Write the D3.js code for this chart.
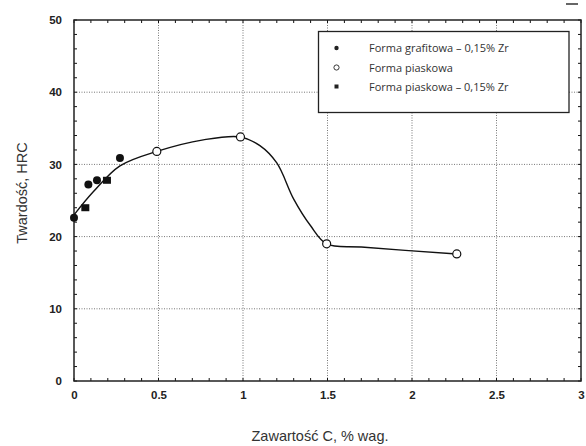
<!DOCTYPE html>
<html><head><meta charset="utf-8">
<script src="https://cdn.jsdelivr.net/npm/d3@7"></script>
<style>body{margin:0;background:#fff}</style>
</head><body><svg id="c" width="586" height="446"></svg>
<script>
const xTicks = [0, 0.5, 1, 1.5, 2, 2.5, 3];
const xTickLabels = ["0", "0.5", "1", "1.5", "2", "2.5", "3"];
const yTicks = [0, 10, 20, 30, 40, 50];
const grafitowaZr = [[0, 22.6], [0.085, 27.2], [0.136, 27.8], [0.272, 30.9]];
const piaskowa = [[0.49, 31.8], [0.985, 33.8], [1.495, 19.0], [2.265, 17.6]];
const piaskowaZr = [[0.067, 24.0], [0.195, 27.8]];
const trendCurve = [[0, 23.0], [0.114, 26.2], [0.272, 29.8], [0.49, 31.8], [0.765, 33.4], [0.985, 33.8],
  [1.1, 32.6], [1.2, 30.2], [1.3, 25.2], [1.4, 21.5], [1.495, 19.0], [1.7, 18.55], [2.265, 17.6]];
const legendLabels = ["Forma grafitowa \u2013 0,15% Zr", "Forma piaskowa", "Forma piaskowa \u2013 0,15% Zr"];

const svg = d3.select("#c");
const x = d3.scaleLinear().domain([0, 3]).range([74, 581]);
const y = d3.scaleLinear().domain([0, 50]).range([381, 20]);

// grid
const grid = svg.append("g").attr("stroke", "#777").attr("stroke-width", 1).attr("stroke-dasharray", "1,1.5");
xTicks.filter(d => d > 0 && d < 3).forEach(d => grid.append("line").attr("x1", x(d)).attr("x2", x(d)).attr("y1", y(0)).attr("y2", y(50)));
yTicks.filter(d => d > 0 && d < 50).forEach(d => grid.append("line").attr("x1", x(0)).attr("x2", x(3)).attr("y1", y(d)).attr("y2", y(d)));

// minor ticks
const mt = svg.append("g").attr("stroke", "#111").attr("stroke-width", 1);
d3.range(0, 3.001, 0.1).forEach(d => {
  mt.append("line").attr("x1", x(d)).attr("x2", x(d)).attr("y1", y(0)).attr("y2", y(0) - 3);
  mt.append("line").attr("x1", x(d)).attr("x2", x(d)).attr("y1", y(50)).attr("y2", y(50) + 3);
});
d3.range(0, 50.001, 2).forEach(d => {
  mt.append("line").attr("x1", x(0)).attr("x2", x(0) + 3).attr("y1", y(d)).attr("y2", y(d));
  mt.append("line").attr("x1", x(3)).attr("x2", x(3) - 3).attr("y1", y(d)).attr("y2", y(d));
});

// frame
svg.append("rect").attr("x", x(0)).attr("y", y(50)).attr("width", x(3) - x(0)).attr("height", y(0) - y(50))
  .attr("fill", "none").attr("stroke", "#222").attr("stroke-width", 1.5);

// axes labels
const xAxis = d3.axisBottom(x).tickValues(xTicks).tickFormat((d, i) => xTickLabels[i]).tickSize(0).tickPadding(10);
const gx = svg.append("g").attr("transform", `translate(0,${y(0)})`).call(xAxis);
gx.select(".domain").remove();
gx.selectAll("text").attr("font-family", "Liberation Sans, Arial, sans-serif").attr("font-size", 11.5).attr("font-weight", "bold").attr("fill", "#222");
const yAxis = d3.axisLeft(y).tickValues(yTicks).tickSize(0).tickPadding(12);
const gy = svg.append("g").attr("transform", `translate(${x(0)},0)`).call(yAxis);
gy.select(".domain").remove();
gy.selectAll("text").attr("font-family", "Liberation Sans, Arial, sans-serif").attr("font-size", 11.5).attr("font-weight", "bold").attr("fill", "#222");

// titles
svg.append("text").attr("x", 320).attr("y", 441).attr("text-anchor", "middle")
  .attr("font-family", "Liberation Sans, Arial, sans-serif").attr("font-size", 14.5).attr("fill", "#333").text("Zawartość C, % wag.");
svg.append("text").attr("transform", "translate(27,193) rotate(-90)").attr("text-anchor", "middle")
  .attr("font-family", "Liberation Sans, Arial, sans-serif").attr("font-size", 14.5).attr("fill", "#333").text("Twardość, HRC");

// curve
const line = d3.line().x(d => x(d[0])).y(d => y(d[1])).curve(d3.curveCatmullRom.alpha(0.5));
svg.append("path").datum(trendCurve).attr("d", line).attr("fill", "none").attr("stroke", "#111").attr("stroke-width", 1.4);

// points
svg.append("g").selectAll("circle").data(grafitowaZr).join("circle")
  .attr("cx", d => x(d[0])).attr("cy", d => y(d[1])).attr("r", 4).attr("fill", "#111");
svg.append("g").selectAll("rect").data(piaskowaZr).join("rect")
  .attr("x", d => x(d[0]) - 4).attr("y", d => y(d[1]) - 3.5).attr("width", 8).attr("height", 7).attr("fill", "#111");
svg.append("g").selectAll("circle").data(piaskowa).join("circle")
  .attr("cx", d => x(d[0])).attr("cy", d => y(d[1])).attr("r", 4).attr("fill", "#fff").attr("stroke", "#111").attr("stroke-width", 1.2);

// legend
const lg = svg.append("g");
lg.append("rect").attr("x", 318.5).attr("y", 31.5).attr("width", 250.5).attr("height", 81).attr("fill", "#fff").attr("stroke", "#222").attr("stroke-width", 1.3);
const rows = [48, 67.5, 86.5];
lg.append("circle").attr("cx", 336.5).attr("cy", rows[0]).attr("r", 2.2).attr("fill", "#222");
lg.append("circle").attr("cx", 336.5).attr("cy", rows[1]).attr("r", 2.6).attr("fill", "#fff").attr("stroke", "#222").attr("stroke-width", 0.9);
lg.append("rect").attr("x", 334.5).attr("y", rows[2] - 2).attr("width", 4).attr("height", 4).attr("fill", "#222");
legendLabels.forEach((t, i) => lg.append("text").attr("x", 369).attr("y", rows[i] + 4)
  .attr("font-family", "Open Sans, sans-serif").attr("font-size", 11).attr("fill", "#333").text(t));

// small mark at top right
svg.append("line").attr("x1", 566).attr("x2", 578).attr("y1", 4).attr("y2", 4).attr("stroke", "#333").attr("stroke-width", 1.5);
</script></body></html>
